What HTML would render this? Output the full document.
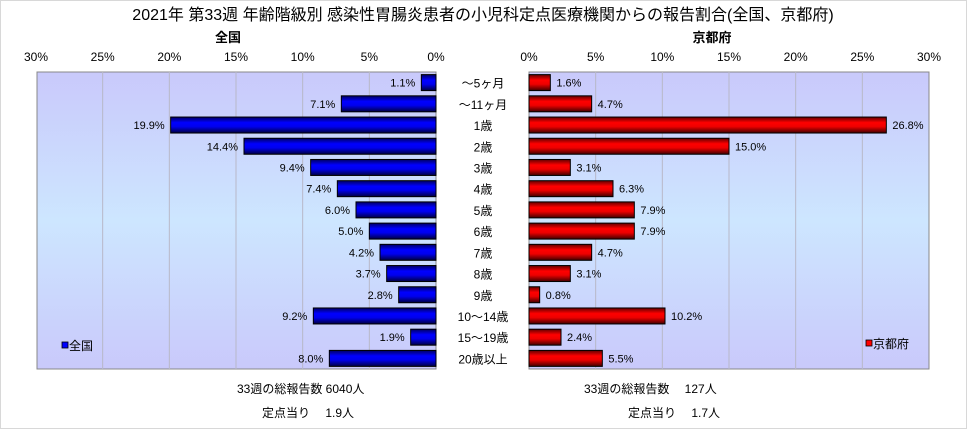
<!DOCTYPE html>
<html><head><meta charset="utf-8"><style>
html,body{margin:0;padding:0;background:#fff}
svg{display:block;font-family:"Liberation Sans","Noto Sans CJK JP",sans-serif}
</style></head><body>
<svg id="chart" width="967" height="429" viewBox="0 0 967 429">
<defs>
<linearGradient id="bg" x1="0" y1="0" x2="0" y2="1">
<stop offset="0" stop-color="#c9c9fb"/><stop offset="0.5" stop-color="#cde6ff"/><stop offset="1" stop-color="#c9c9fb"/></linearGradient>
<linearGradient id="gb" x1="0" y1="0" x2="0" y2="1">
<stop offset="0" stop-color="#000060"/><stop offset="0.35" stop-color="#0000ff"/><stop offset="0.6" stop-color="#0000ee"/><stop offset="1" stop-color="#000040"/></linearGradient>
<linearGradient id="gr" x1="0" y1="0" x2="0" y2="1">
<stop offset="0" stop-color="#600000"/><stop offset="0.35" stop-color="#ff0000"/><stop offset="0.6" stop-color="#ee0000"/><stop offset="1" stop-color="#400000"/></linearGradient>
</defs>
<rect x="0.5" y="0.5" width="966" height="428" fill="#fff" stroke="#d8d8d8"/>
<text x="483" y="20" font-size="16" text-anchor="middle">2021年 第33週 年齢階級別 感染性胃腸炎患者の小児科定点医療機関からの報告割合(全国、京都府)</text>
<text x="228" y="42" font-size="13" font-weight="bold" text-anchor="middle">全国</text>
<text x="712" y="42" font-size="13" font-weight="bold" text-anchor="middle">京都府</text>
<rect x="37" y="72" width="399" height="297" fill="url(#bg)" stroke="#888"/>
<rect x="529" y="72" width="400" height="297" fill="url(#bg)" stroke="#888"/>
<g id="grid"></g><g id="bars"></g><g id="labels"></g>
<rect x="62" y="342" width="6" height="6" fill="#0000ff" stroke="#000" stroke-width="0.8"/>
<text x="69" y="350" font-size="12">全国</text>
<rect x="866" y="340" width="6" height="6" fill="#ff0000" stroke="#000" stroke-width="0.8"/>
<text x="873" y="348" font-size="12">京都府</text>
<text x="237" y="393" font-size="12">33週の総報告数 6040人</text>
<text x="262" y="417" font-size="12">定点当り　 1.9人</text>
<text x="584" y="393" font-size="12">33週の総報告数　 127人</text>
<text x="628" y="417" font-size="12">定点当り　 1.7人</text>
</svg>
<script>
const categories=["～5ヶ月","～11ヶ月","1歳","2歳","3歳","4歳","5歳","6歳","7歳","8歳","9歳","10～14歳","15～19歳","20歳以上"];
const nationalValues=[1.1,7.1,19.9,14.4,9.4,7.4,6.0,5.0,4.2,3.7,2.8,9.2,1.9,8.0];
const kyotoValues=[1.6,4.7,26.8,15.0,3.1,6.3,7.9,7.9,4.7,3.1,0.8,10.2,2.4,5.5];
const tickValues=[0,5,10,15,20,25,30];
const NS="http://www.w3.org/2000/svg";
const PX=400/30;
const xL=v=>436-v*PX, xR=v=>529+v*PX;
const plotTop=72, pitch=297/categories.length;
const yC=i=>plotTop+pitch*(i+0.5);
function mk(tag,attrs,parent){const e=document.createElementNS(NS,tag);for(const k in attrs)e.setAttribute(k,attrs[k]);parent.appendChild(e);return e;}
const grid=document.getElementById('grid'),bars=document.getElementById('bars'),labels=document.getElementById('labels');
tickValues.forEach(t=>{
  if(t>0&&t<30){
    const g1=mk('line',{x1:xL(t),x2:xL(t),y1:plotTop,y2:369,stroke:'#b8b8c8'},grid);
    
    
    const g2=mk('line',{x1:xR(t),x2:xR(t),y1:plotTop,y2:369,stroke:'#b8b8c8'},grid);
    
    
  }
  const a=mk('text',{x:xL(t),y:61,'font-size':12,'text-anchor':'middle'},labels);a.textContent=t+'%';
  
  
  const b=mk('text',{x:xR(t),y:61,'font-size':12,'text-anchor':'middle'},labels);b.textContent=t+'%';
  
  
});
const bh=16;
categories.forEach((c,i)=>{
  const y=yC(i);
  const v=nationalValues[i];
  const r=mk('rect',{x:xL(v),y:y-bh/2,width:v*PX,height:bh,fill:'url(#gb)',stroke:'#000','stroke-width':1},bars);
  
  
  const t=mk('text',{x:xL(v)-6,y:y+4,'font-size':11,'text-anchor':'end'},labels);t.textContent=v.toFixed(1)+'%';
  
  
  const k=kyotoValues[i];
  const r2=mk('rect',{x:529,y:y-bh/2,width:k*PX,height:bh,fill:'url(#gr)',stroke:'#000','stroke-width':1},bars);
  
  
  const t2=mk('text',{x:xR(k)+6,y:y+4,'font-size':11},labels);t2.textContent=k.toFixed(1)+'%';
  
  
  const cl=mk('text',{x:483,y:y+5,'font-size':12,'text-anchor':'middle'},labels);cl.textContent=c;
  
  
});
</script>
</body></html>
